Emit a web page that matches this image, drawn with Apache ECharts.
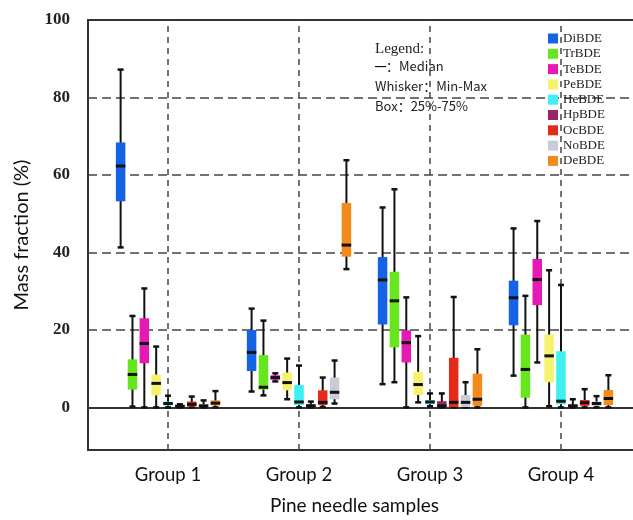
<!DOCTYPE html>
<html>
<head>
<meta charset="utf-8">
<script src="https://cdn.jsdelivr.net/npm/echarts@6/dist/echarts.min.js"></script>
<style>
  html, body { margin: 0; padding: 0; background: #fff; overflow: hidden; }
  #main { width: 650px; height: 520px; }
</style>
</head>
<body>
<div id="main"></div>
<script>
// groups on the x axis
var groups = ['Group 1', 'Group 2', 'Group 3', 'Group 4'];
var groupPos = [1, 2, 3, 4];
var yTicks = [0, 20, 40, 60, 80, 100];
var gridValues = [0, 20, 40, 60, 80];

var compounds = ['DiBDE', 'TrBDE', 'TeBDE', 'PeBDE', 'HeBDE', 'HpBDE', 'OcBDE', 'NoBDE', 'DeBDE'];
var colors = ['#1463e6', '#66e61c', '#e619b4', '#f7f26e', '#3ef0ef', '#9a2466', '#e62a1a', '#c9ccd6', '#f28a1c'];

// [min, Q1, median, Q3, max] per group, one array per compound
var DiBDE = [[41.3, 53.2, 62.3, 68.4, 87.2], [4.1, 9.4, 14.2, 20.0, 25.5], [6.0, 21.4, 32.9, 38.8, 51.6], [8.2, 21.2, 28.3, 32.7, 46.2]];
var TrBDE = [[0.2, 4.6, 8.5, 12.4, 23.6], [3.1, 4.6, 5.2, 13.5, 22.4], [6.5, 15.5, 27.5, 35.0, 56.3], [0, 2.5, 9.8, 18.8, 28.8]];
var TeBDE = [[0, 11.4, 16.5, 23.0, 30.7], [6.7, 7.1, 7.7, 8.3, 8.8], [0, 11.6, 16.7, 19.9, 28.4], [11.6, 26.4, 33.0, 38.3, 48.1]];
var PeBDE = [[0, 3.1, 6.2, 8.5, 15.7], [2.1, 4.4, 6.4, 9.0, 12.6], [1.3, 3.2, 5.9, 9.2, 18.4], [0.3, 6.5, 13.3, 18.8, 35.4]];
var HeBDE = [[0, 0.5, 1.0, 1.5, 3.0], [0, 0.6, 1.4, 5.8, 10.8], [0.3, 0.8, 1.4, 1.9, 3.6], [0, 0.8, 1.6, 14.5, 31.6]];
var HpBDE = [[0, 0.1, 0.3, 0.6, 0.8], [0, 0.1, 0.4, 0.8, 1.5], [0, 0.1, 0.4, 1.6, 3.6], [0, 0.1, 0.4, 0.7, 2.1]];
var OcBDE = [[0, 0.2, 0.8, 1.5, 2.8], [0.1, 0.6, 1.3, 4.4, 7.7], [0, 0.1, 1.3, 12.8, 28.5], [0, 0.4, 1.2, 1.9, 4.7]];
var NoBDE = [[0, 0.1, 0.4, 0.8, 1.8], [1.0, 2.1, 3.9, 7.7, 12.1], [0, 0.1, 1.3, 3.2, 6.5], [0, 0.4, 1.0, 1.5, 2.9]];
var DeBDE = [[0, 0.5, 1.1, 1.8, 4.2], [35.7, 38.9, 41.9, 52.8, 63.8], [0, 0.4, 2.1, 8.7, 15.0], [0, 0.6, 2.3, 4.5, 8.3]];
var boxData = [DiBDE, TrBDE, TeBDE, PeBDE, HeBDE, HpBDE, OcBDE, NoBDE, DeBDE];

var chart = echarts.init(document.getElementById('main'));

// box + whisker + median drawn with the axes' own scales
function makeRender(k) {
  return function (params, api) {
    var x = api.value(0);
    var lo = api.coord([x, api.value(1)]);
    var q1 = api.coord([x, api.value(2)]);
    var md = api.coord([x, api.value(3)]);
    var q3 = api.coord([x, api.value(4)]);
    var hi = api.coord([x, api.value(5)]);
    var unit = api.size([1, 0])[0];
    var cx = lo[0] + (k - 4) * unit * 0.0905;
    var w = 9.5;
    var black = '#111';
    return {
      type: 'group',
      children: [
        { type: 'line', shape: { x1: cx, y1: hi[1], x2: cx, y2: lo[1] }, style: { stroke: black, lineWidth: 2 } },
        { type: 'line', shape: { x1: cx - 3, y1: hi[1], x2: cx + 3, y2: hi[1] }, style: { stroke: black, lineWidth: 2.5 } },
        { type: 'line', shape: { x1: cx - 3, y1: lo[1], x2: cx + 3, y2: lo[1] }, style: { stroke: black, lineWidth: 2.5 } },
        { type: 'rect', shape: { x: cx - w / 2, y: q3[1], width: w, height: Math.max(q1[1] - q3[1], 1) }, style: { fill: colors[k] } },
        { type: 'line', shape: { x1: cx - w / 2, y1: md[1], x2: cx + w / 2, y2: md[1] }, style: { stroke: black, lineWidth: 3 } }
      ]
    };
  };
}

var series = [];
// helper series for the dashed grid lines, kept behind the boxes
series.push({
  type: 'line',
  data: [],
  silent: true,
  z: 0,
  markLine: {
    silent: true,
    z: 0,
    symbol: 'none',
    label: { show: false },
    lineStyle: { color: '#444', type: [9, 5], width: 1.5 },
    data: gridValues.map(function (v) { return { yAxis: v }; })
      .concat(groupPos.map(function (v) { return { xAxis: v, lineStyle: { type: [6, 5] } }; }))
  }
});
compounds.forEach(function (name, k) {
  series.push({
    name: name,
    type: 'custom',
    itemStyle: { color: colors[k] },
    renderItem: makeRender(k),
    encode: { x: 0, y: [1, 2, 3, 4, 5] },
    data: boxData[k].map(function (b, g) { return [groupPos[g]].concat(b); }),
    z: 6
  });
});

var option = {
  animation: false,
  backgroundColor: '#fff',
  grid: { left: 88, right: 9, top: 20, bottom: 68, show: true, borderColor: '#333', borderWidth: 2 },
  legend: {
    data: compounds,
    orient: 'vertical',
    left: 543,
    top: 27,
    icon: 'rect',
    itemWidth: 10,
    itemHeight: 10,
    itemGap: 2.3,
    textStyle: { fontFamily: 'Liberation Serif', fontSize: 13, color: '#222' }
  },
  xAxis: {
    type: 'value',
    min: 0.389,
    max: 4.611,
    name: 'Pine needle samples',
    nameLocation: 'middle',
    nameGap: 46,
    nameTextStyle: { fontFamily: 'Lato', fontSize: 19, color: '#111', padding: [0, 20, 0, 0] },
    axisLine: { lineStyle: { color: '#333', width: 2 } },
    axisTick: { show: true, inside: true, length: 6, customValues: groupPos, lineStyle: { color: '#333', width: 1.5 } },
    axisLabel: {
      customValues: groupPos,
      margin: 16,
      fontFamily: 'Lato',
      fontSize: 18.5,
      color: '#111',
      formatter: function (v) { return groups[groupPos.indexOf(Math.round(v))]; }
    },
    splitLine: { show: false }
  },
  yAxis: {
    type: 'value',
    min: -11,
    max: 100,
    name: 'Mass fraction (%)',
    nameLocation: 'middle',
    nameGap: 56,
    nameTextStyle: { fontFamily: 'Lato', fontSize: 20, color: '#111' },
    axisLine: { show: true, lineStyle: { color: '#333', width: 2 } },
    axisTick: { show: false },
    axisLabel: {
      customValues: yTicks,
      margin: 18,
      fontFamily: 'Liberation Serif',
      fontWeight: 'bold',
      fontSize: 17,
      color: '#222'
    },
    splitLine: { show: false }
  },
  graphic: [
    { type: 'text', left: 375, top: 42, style: { text: 'Legend:', font: '15px "Liberation Serif"', fill: '#222' } },
    { type: 'text', left: 375, top: 60, style: {
        text: '{d|—}：Median',
        font: '13px "Noto Sans CJK SC"', fill: '#222',
        rich: { d: { fontWeight: 'bold', fontSize: 11, fill: '#000' } }
      } },
    { type: 'text', left: 375, top: 80, style: { text: 'Whisker：Min-Max', font: '13px "Noto Sans CJK SC"', fill: '#222' } },
    { type: 'text', left: 375, top: 100, style: { text: 'Box：25%-75%', font: '13px "Noto Sans CJK SC"', fill: '#222' } }
  ],
  series: series
};

chart.setOption(option);
</script>
</body>
</html>
